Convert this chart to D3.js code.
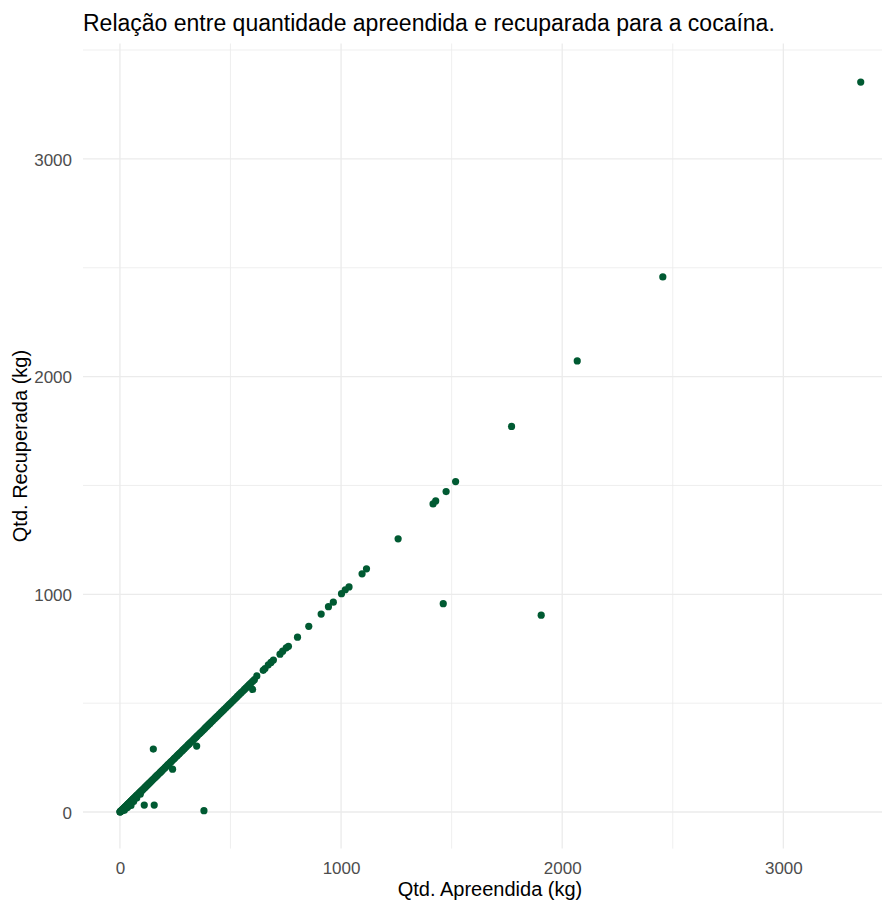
<!DOCTYPE html>
<html>
<head>
<meta charset="utf-8">
<script src="https://cdn.jsdelivr.net/npm/d3@7/dist/d3.min.js"></script>
<style>
  html, body { margin: 0; padding: 0; background: #fff; }
  svg { display: block; }
  text { font-family: "Liberation Sans", Arial, sans-serif; }
</style>
</head>
<body>
<svg id="chart" width="882" height="900"></svg>
<script>
// ---- data ----
const title = "Relação entre quantidade apreendida e recuparada para a cocaína.";
const xLabel = "Qtd. Apreendida (kg)";
const yLabel = "Qtd. Recuperada (kg)";
const xTicks = [0, 1000, 2000, 3000];
const yTicks = [0, 1000, 2000, 3000];
const minorTicks = [500, 1500, 2500, 3500];

// quantidade apreendida (kg)
const apreendida = [
  0.5, 1, 1.5, 2, 3, 4, 5, 6, 8, 10, 12, 14, 15, 18, 20, 22, 25, 27, 30, 33,
  35, 38, 40, 42, 45, 48, 50, 53, 55, 58, 60, 63, 66, 70, 72, 75, 78, 80, 84, 87,
  90, 94, 97, 100, 104, 108, 112, 115, 118, 122, 126, 130, 134, 138, 142, 146, 150, 155, 160, 164,
  168, 172, 177, 182, 186, 190, 195, 200, 205, 210, 214, 219, 224, 229, 234, 240, 245, 250, 256, 261,
  267, 272, 278, 284, 290, 296, 302, 308, 314, 320, 326, 332, 338, 345, 351, 358, 364, 371, 378, 385,
  392, 399, 406, 413, 420, 428, 435, 442, 450, 458, 465, 472, 480, 488, 495, 502, 510, 518, 525, 532,
  540, 548, 556, 563, 570, 578, 585, 592, 600, 608,
  // slightly below the line near zero
  20, 35, 50, 62, 76, 92, 30, 44,
  // sparse points along the line
  619, 648, 656, 671, 683, 694, 724, 736, 752, 762, 803, 854, 910, 943, 965, 1002, 1019, 1036,
  1095, 1115, 1258, 1416, 1428, 1475, 1518, 1771, 2068, 2455, 3350,
  // outliers
  1462, 1905, 151, 110, 155, 380, 347, 238, 600
];
// quantidade recuperada (kg)
const recuperada = [
  0.5, 1, 1.5, 2, 3, 4, 5, 6, 8, 10, 12, 14, 15, 18, 20, 22, 25, 27, 30, 33,
  35, 38, 40, 42, 45, 48, 50, 53, 55, 58, 60, 63, 66, 70, 72, 75, 78, 80, 84, 87,
  90, 94, 97, 100, 104, 108, 112, 115, 118, 122, 126, 130, 134, 138, 142, 146, 150, 155, 160, 164,
  168, 172, 177, 182, 186, 190, 195, 200, 205, 210, 214, 219, 224, 229, 234, 240, 245, 250, 256, 261,
  267, 272, 278, 284, 290, 296, 302, 308, 314, 320, 326, 332, 338, 345, 351, 358, 364, 371, 378, 385,
  392, 399, 406, 413, 420, 428, 435, 442, 450, 458, 465, 472, 480, 488, 495, 502, 510, 518, 525, 532,
  540, 548, 556, 563, 570, 578, 585, 592, 600, 608,
  8, 22, 30, 48, 64, 82, 18, 32,
  625, 651, 659, 676, 687, 698, 725, 739, 754, 761, 803, 853, 909, 943, 964, 1003, 1021, 1034,
  1094, 1117, 1255, 1415, 1429, 1472, 1518, 1771, 2072, 2458, 3353,
  957, 904, 289, 32, 32, 6, 303, 197, 563
];

const pointColor = "#005a32";

// ---- layout ----
const svg = d3.select("#chart");
const panel = { left: 83, right: 897, top: 43.5, bottom: 848.6 };

const x = d3.scaleLinear().domain([-167, 3514]).range([panel.left, panel.right]);
const y = d3.scaleLinear().domain([-168, 3530]).range([panel.bottom, panel.top]);

const grid = svg.append("g");
// minor gridlines
grid.selectAll("line.xminor").data(minorTicks.filter(d => x(d) <= panel.right)).join("line")
  .attr("x1", d => x(d)).attr("x2", d => x(d))
  .attr("y1", panel.top).attr("y2", panel.bottom)
  .attr("stroke", "#ebebeb").attr("stroke-width", 0.8);
grid.selectAll("line.yminor").data(minorTicks.filter(d => y(d) >= panel.top)).join("line")
  .attr("y1", d => y(d)).attr("y2", d => y(d))
  .attr("x1", panel.left).attr("x2", panel.right)
  .attr("stroke", "#ebebeb").attr("stroke-width", 0.8);
// major gridlines
grid.selectAll("line.xmajor").data(xTicks).join("line")
  .attr("x1", d => x(d)).attr("x2", d => x(d))
  .attr("y1", panel.top).attr("y2", panel.bottom)
  .attr("stroke", "#ebebeb").attr("stroke-width", 1.3);
grid.selectAll("line.ymajor").data(yTicks).join("line")
  .attr("y1", d => y(d)).attr("y2", d => y(d))
  .attr("x1", panel.left).attr("x2", panel.right)
  .attr("stroke", "#ebebeb").attr("stroke-width", 1.3);

// axes (labels only, theme_minimal)
const xAxis = d3.axisBottom(x).tickValues(xTicks).tickSize(0).tickPadding(0).tickFormat(d3.format("d"));
const gx = svg.append("g").attr("transform", `translate(0,${panel.bottom})`).call(xAxis);
gx.select(".domain").remove();
gx.attr("font-family", null).attr("font-size", null);
gx.selectAll("text").attr("fill", "#4d4d4d").attr("font-size", "17px")
  .attr("dy", null).attr("y", 25.4);

const yAxis = d3.axisLeft(y).tickValues(yTicks).tickSize(0).tickPadding(0).tickFormat(d3.format("d"));
const gy = svg.append("g").attr("transform", `translate(${panel.left},0)`).call(yAxis);
gy.select(".domain").remove();
gy.attr("font-family", null).attr("font-size", null);
gy.selectAll("text").attr("fill", "#4d4d4d").attr("font-size", "17px")
  .attr("x", -11).attr("dy", "0.36em");

// points
const pts = apreendida.map((v, i) => ({ a: v, r: recuperada[i] }));
svg.append("g").selectAll("circle").data(pts).join("circle")
  .attr("cx", d => x(d.a)).attr("cy", d => y(d.r)).attr("r", 3.6)
  .attr("fill", pointColor);

// titles
svg.append("text").attr("x", 83).attr("y", 31).attr("font-size", "23px").attr("fill", "#000")
  .text(title);
svg.append("text").attr("x", (panel.left + panel.right) / 2).attr("y", 896)
  .attr("text-anchor", "middle").attr("font-size", "20px").attr("fill", "#000").text(xLabel);
svg.append("text").attr("transform", `translate(26.5,${(panel.top + panel.bottom) / 2}) rotate(-90)`)
  .attr("text-anchor", "middle").attr("font-size", "20px").attr("fill", "#000").text(yLabel);
</script>
</body>
</html>
